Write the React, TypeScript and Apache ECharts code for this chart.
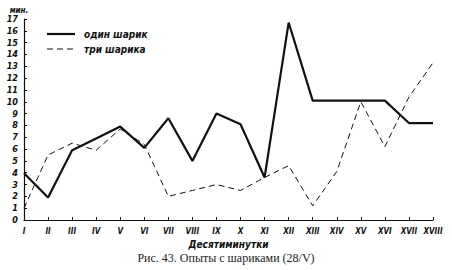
import React, { useEffect, useRef } from "react";
import * as echarts from "echarts";

const categories = ["I", "II", "III", "IV", "V", "VI", "VII", "VIII", "IX", "X", "XI", "XII", "XIII", "XIV", "XV", "XVI", "XVII", "XVIII"];
const oneBall = [3.95, 1.9, 5.9, 6.9, 7.9, 6.1, 8.6, 5.0, 9.0, 8.1, 3.6, 16.7, 10.1, 10.1, 10.1, 10.1, 8.2, 8.2];
const threeBalls = [1.0, 5.5, 6.5, 5.9, 7.7, 6.4, 2.0, 2.5, 3.0, 2.5, 3.6, 4.6, 1.2, 4.1, 10.0, 6.2, 10.4, 13.3];
const seriesNames = ["один шарик", "три шарика"];
const yUnit = "мин.";
const xTitle = "Десятиминутки";
const caption = "Рис. 43. Опыты с шариками (28/V)";

export default function App() {
  const ref = useRef<HTMLDivElement>(null);
  useEffect(() => {
    if (!ref.current) return;
    const chart = echarts.init(ref.current, null, { renderer: "svg" });
    const labelFont = {
      fontFamily: "DejaVu Sans Condensed, DejaVu Sans",
      fontStyle: "italic" as const,
      fontWeight: "bold" as const,
      fontSize: 9,
      color: "#111",
    };
    const legendFont = "italic bold 10px 'DejaVu Sans Condensed', 'DejaVu Sans'";
    chart.setOption({
      animation: false,
      backgroundColor: "#fff",
      grid: { left: 24, right: 19, top: 19, bottom: 50 },
      xAxis: {
        type: "category",
        data: categories,
        boundaryGap: false,
        axisLine: { lineStyle: { color: "#111", width: 1.2 } },
        axisTick: { show: true, inside: true, length: 3, interval: 0, lineStyle: { color: "#111" } },
        axisLabel: { ...labelFont, fontSize: 8, margin: 7, interval: 0, hideOverlap: false },
        name: xTitle,
        nameLocation: "middle",
        nameGap: 17,
        nameTextStyle: { ...labelFont, fontSize: 10 },
      },
      yAxis: {
        type: "value",
        min: 0,
        max: 17,
        interval: 1,
        splitLine: { show: false },
        axisLine: { show: true, lineStyle: { color: "#111", width: 1.2 } },
        axisTick: { show: true, inside: true, length: 3, lineStyle: { color: "#111" } },
        axisLabel: { ...labelFont, margin: 6 },
        name: yUnit,
        nameGap: 4,
        nameTextStyle: { ...labelFont, fontSize: 8, align: "center", padding: [0, 0, 0, -10] },
      },
      graphic: [
        {
          type: "line",
          shape: { x1: 47, y1: 34, x2: 75, y2: 34 },
          style: { stroke: "#111", lineWidth: 2.2 },
        },
        {
          type: "text",
          x: 84,
          y: 34,
          style: { text: seriesNames[0], font: legendFont, fill: "#111", verticalAlign: "middle" },
        },
        {
          type: "line",
          shape: { x1: 47, y1: 49, x2: 75, y2: 49 },
          style: { stroke: "#111", lineWidth: 1, lineDash: [6, 4] },
        },
        {
          type: "text",
          x: 84,
          y: 49,
          style: { text: seriesNames[1], font: legendFont, fill: "#111", verticalAlign: "middle" },
        },
        {
          type: "text",
          left: "center",
          top: 252,
          style: {
            text: caption,
            font: "12px 'Liberation Serif'",
            fill: "#222",
          },
        },
      ],
      series: [
        {
          name: seriesNames[0],
          type: "line",
          data: oneBall,
          symbol: "none",
          lineStyle: { color: "#111", width: 2.2, type: "solid" },
          itemStyle: { color: "#111" },
        },
        {
          name: seriesNames[1],
          type: "line",
          data: threeBalls,
          symbol: "none",
          lineStyle: { color: "#111", width: 1, type: [6, 4] },
          itemStyle: { color: "#111" },
        },
      ],
    });
    return () => chart.dispose();
  }, []);
  return (
    <div
      ref={ref}
      style={{ position: "fixed", left: 0, top: 0, width: 452, height: 270, background: "#fff" }}
    />
  );
}
